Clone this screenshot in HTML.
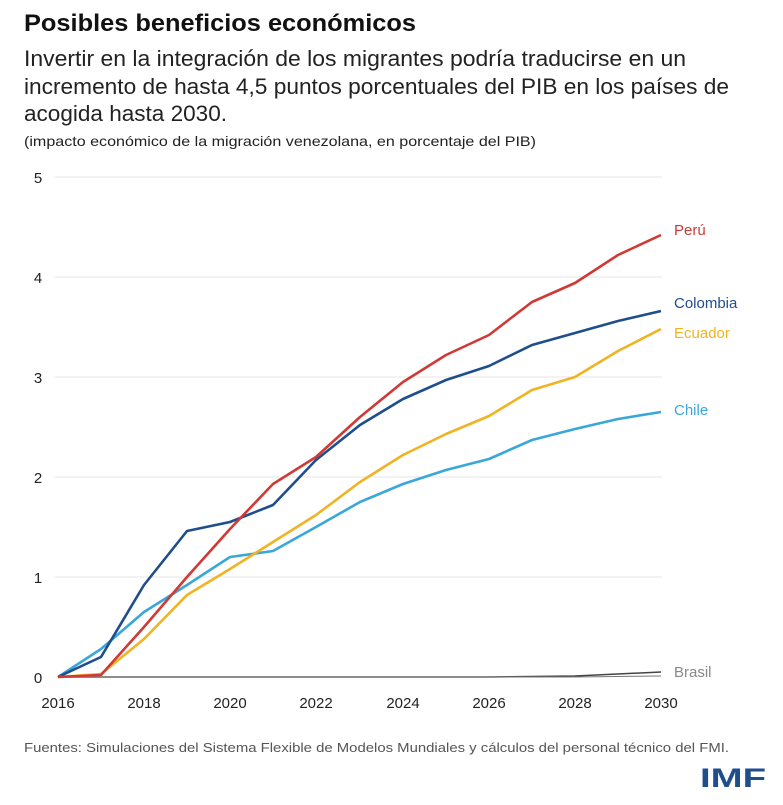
<!DOCTYPE html>
<html><head><meta charset="utf-8"><style>
html,body{margin:0;padding:0;background:#fff;}
svg{display:block;}
text{font-family:"Liberation Sans Narrow","Liberation Sans",sans-serif;}
</style></head><body>
<svg width="783" height="805" viewBox="0 0 783 805">
<text x="24" y="31" font-size="24" font-weight="bold" fill="#111" textLength="392" lengthAdjust="spacingAndGlyphs">Posibles beneficios económicos</text>
<text x="24" y="66" font-size="22" fill="#222" textLength="662" lengthAdjust="spacingAndGlyphs">Invertir en la integración de los migrantes podría traducirse en un</text>
<text x="24" y="94" font-size="22" fill="#222" textLength="705" lengthAdjust="spacingAndGlyphs">incremento de hasta 4,5 puntos porcentuales del PIB en los países de</text>
<text x="24" y="121" font-size="22" fill="#222" textLength="203" lengthAdjust="spacingAndGlyphs">acogida hasta 2030.</text>
<text x="24" y="146" font-size="14" fill="#222" textLength="512" lengthAdjust="spacingAndGlyphs">(impacto económico de la migración venezolana, en porcentaje del PIB)</text>
<g stroke="#e6e6e6" stroke-width="1">
<line x1="55" y1="177" x2="662" y2="177"/><line x1="55" y1="277" x2="662" y2="277"/><line x1="55" y1="377" x2="662" y2="377"/><line x1="55" y1="477" x2="662" y2="477"/><line x1="55" y1="577" x2="662" y2="577"/>
</g>
<g font-size="15" fill="#222" text-anchor="middle">
<text x="38" y="183">5</text><text x="38" y="283">4</text><text x="38" y="383">3</text><text x="38" y="483">2</text><text x="38" y="583">1</text><text x="38" y="683">0</text>
<text x="58" y="708">2016</text><text x="144" y="708">2018</text><text x="230" y="708">2020</text><text x="316" y="708">2022</text><text x="403" y="708">2024</text><text x="489" y="708">2026</text><text x="575" y="708">2028</text><text x="661" y="708">2030</text>
</g>
<g fill="none" stroke-width="2.6" stroke-linejoin="round">
<polyline stroke="#444" stroke-width="1.5" points="58,677 489,677 575,676 661,672"/>
<polyline stroke="#777" stroke-width="1" points="58,677 489,677 575,677 661,676"/>
<polyline stroke="#3aa7d9" points="58,677 101,649 144,612 187,585 230,557 273,551 316,527 360,502 403,484 446,470 489,459 532,440 575,429 618,419 661,412"/>
<polyline stroke="#f0b323" points="58,677 101,674 144,639 187,595 230,569 273,542 316,515 360,482 403,455 446,434 489,416 532,390 575,377 618,351 661,329"/>
<polyline stroke="#1f4e8c" points="58,677 101,657 144,585 187,531 230,522 273,505 316,460 360,425 403,399 446,380 489,366 532,345 575,333 618,321 661,311"/>
<polyline stroke="#d03a36" points="58,677 101,675 144,627 187,577 230,529 273,484 316,457 360,417 403,382 446,355 489,335 532,302 575,283 618,255 661,235"/>
</g>
<g font-size="15">
<text x="674" y="235" fill="#d03a36">Perú</text>
<text x="674" y="308" fill="#1f4e8c">Colombia</text>
<text x="674" y="338" fill="#f0b323">Ecuador</text>
<text x="674" y="415" fill="#3aa7d9">Chile</text>
<text x="674" y="677" fill="#888">Brasil</text>
</g>
<text x="24" y="752" font-size="13" fill="#555" textLength="705" lengthAdjust="spacingAndGlyphs">Fuentes: Simulaciones del Sistema Flexible de Modelos Mundiales y cálculos del personal técnico del FMI.</text>
<text x="700" y="787" font-size="27" font-weight="bold" fill="#1f4e8c" textLength="66" lengthAdjust="spacingAndGlyphs">IMF</text>
</svg>
</body></html>
